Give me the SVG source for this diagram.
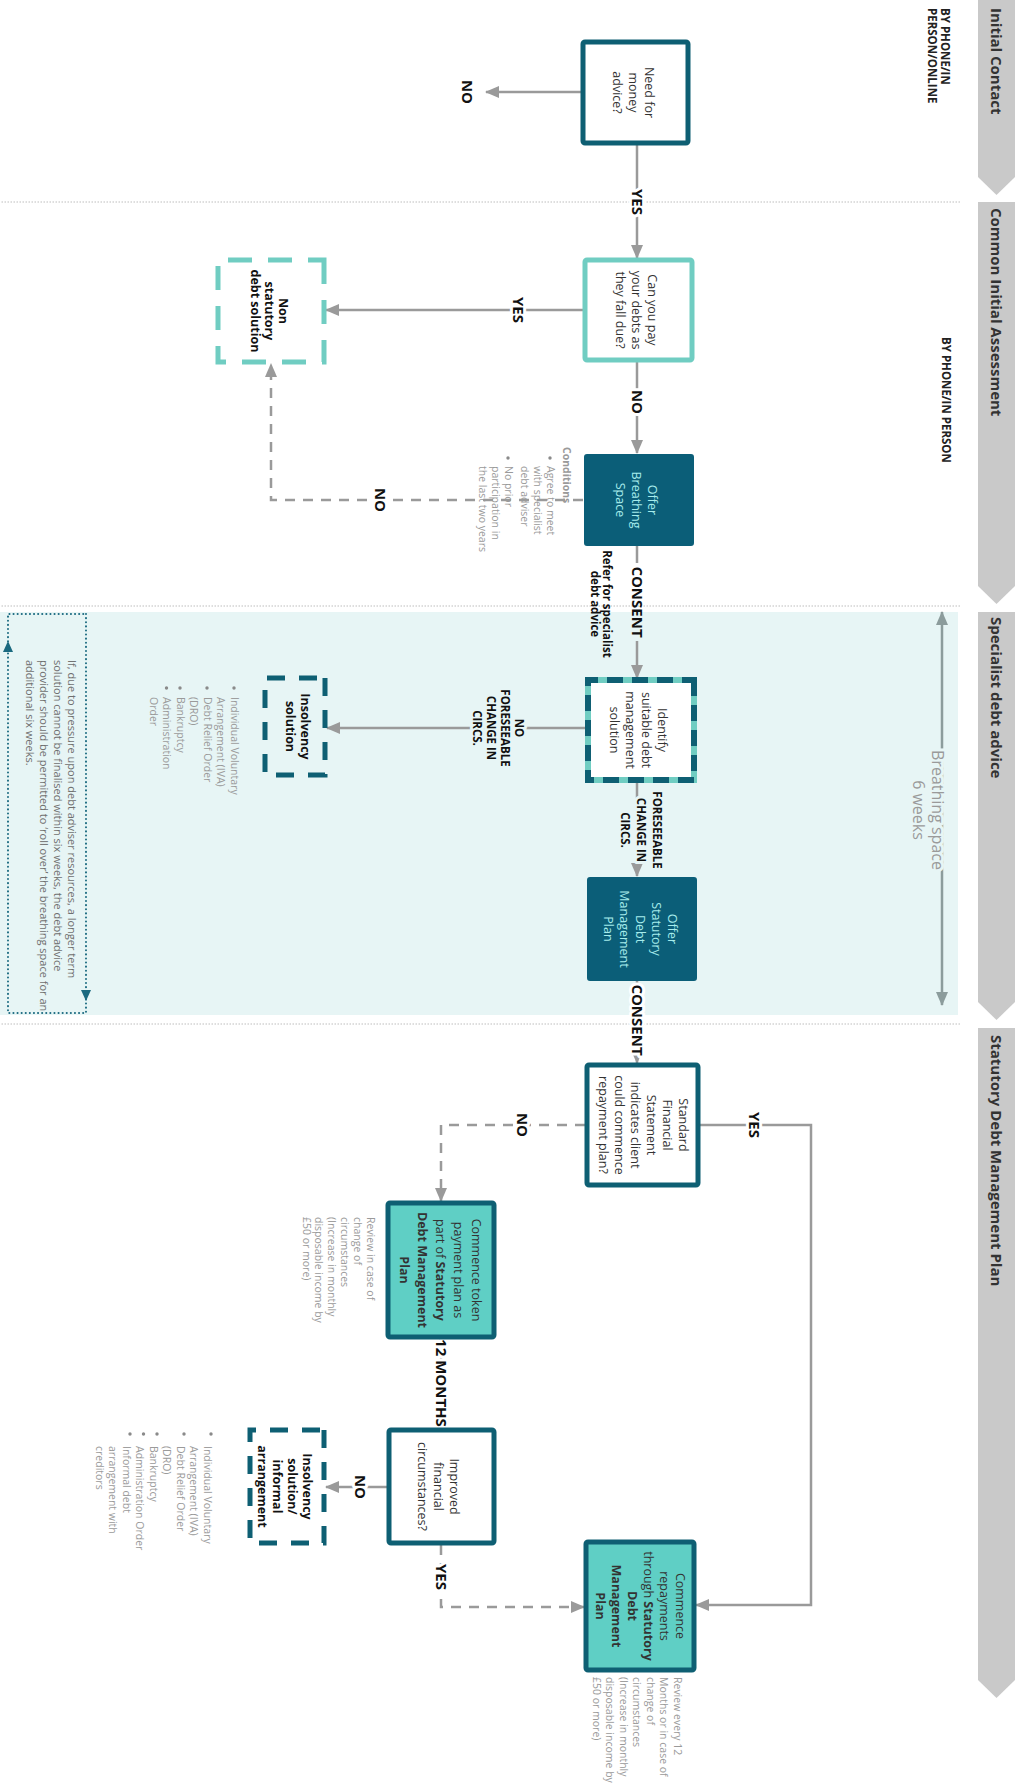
<svg xmlns="http://www.w3.org/2000/svg" width="1023" height="1786" viewBox="0 0 1023 1786">
<defs>
<marker id="ah" viewBox="0 0 14 12" refX="13" refY="6" markerWidth="14" markerHeight="12" orient="auto" markerUnits="userSpaceOnUse"><path d="M0,0 L14,6 L0,12 z" fill="#9a9a9a"/></marker>
<marker id="bh" viewBox="0 0 14 12" refX="13" refY="6" markerWidth="14" markerHeight="12" orient="auto-start-reverse" markerUnits="userSpaceOnUse"><path d="M0,0 L14,6 L0,12 z" fill="#8c9c9c"/></marker>
<style>
text{font-family:'Open Sans','Noto Sans',sans-serif}
.lane{fill:#c9c9c9}
.hdr{font-size:15px;font-weight:bold;fill:#333}
.sep{stroke:#bdbdbd;stroke-width:1;stroke-dasharray:1.5 1.5;fill:none}
.nt{font-size:12.5px;fill:#333;text-anchor:middle}
.ntd{font-size:12.5px;fill:#a6ecec;text-anchor:middle}
.ntb{font-size:12.5px;font-weight:bold;fill:#111;text-anchor:middle}
.wbox{fill:#fff;stroke:#0e5f73;stroke-width:5}
.lbox{fill:#fff;stroke:#70cdc2;stroke-width:5}
.dbox{fill:#0b5e78;stroke:#0b5e78;stroke-width:2}
.tbox{fill:#5fcfc5;stroke:#0e5f73;stroke-width:5}
.dashL{fill:none;stroke:#70cdc2;stroke-width:5;stroke-dasharray:24 16}
.dashD{fill:none;stroke:#0e5f73;stroke-width:5;stroke-dasharray:18 14}
.con{fill:none;stroke:#9a9a9a;stroke-width:2.5}
.dsh{stroke-dasharray:10 8}
.lbl{font-size:15px;font-weight:bold;fill:#111;text-anchor:middle}
.lbs{font-size:11.5px;font-weight:bold;fill:#111;text-anchor:middle}
.halo{stroke:#fff;stroke-width:6;paint-order:stroke;stroke-linejoin:round}
.haloc{stroke:#e7f5f5;stroke-width:6;paint-order:stroke;stroke-linejoin:round}
.sm{font-size:10.5px;fill:#9a9a9a}
.by{font-size:11.5px;font-weight:bold;fill:#222}
</style>
</defs>
<rect x="0" y="0" width="1023" height="1786" fill="#fff"/>
<g transform="translate(1023,0) rotate(90)">
  <g id="lanes">
    <rect x="612" y="65" width="403" height="958" fill="#e7f5f5"/>
    <polygon class="lane" points="0,8 177,8 195,26.5 177,45 0,45"/>
    <polygon class="lane" points="202,8 586,8 604,26.5 586,45 202,45"/>
    <polygon class="lane" points="612,8 1002,8 1020,26.5 1002,45 612,45"/>
    <polygon class="lane" points="1028,8 1680,8 1698,26.5 1680,45 1028,45"/>
    <text class="hdr" x="8" y="32">Initial Contact</text>
    <text class="hdr" x="208" y="32">Common Initial Assessment</text>
    <text class="hdr" x="617" y="32">Specialist debt advice</text>
    <text class="hdr" x="1035" y="32">Statutory Debt Management Plan</text>
    <line class="sep" x1="202" y1="63" x2="202" y2="1023"/>
    <line class="sep" x1="606" y1="63" x2="606" y2="1023"/>
    <line class="sep" x1="1024" y1="63" x2="1024" y2="1023"/>
    <text class="by" x="8" y="82">BY PHONE/IN</text>
    <text class="by" x="8" y="95">PERSON/ONLINE</text>
    <text class="by" x="337" y="81">BY PHONE/IN PERSON</text>
  </g>
  <g id="breathing">
    <line x1="612" y1="81" x2="1005" y2="81" stroke="#8c9c9c" stroke-width="2.5" marker-start="url(#bh)" marker-end="url(#bh)"/>
    <text x="810" y="91" font-size="16" fill="#9a9a9a" text-anchor="middle" class="haloc">Breathing space</text>
    <text x="810" y="110" font-size="16" fill="#9a9a9a" text-anchor="middle" class="haloc">6 weeks</text>
  </g>
  <g id="connectors">
    <path class="con" d="M92,442 V537" marker-end="url(#ah)"/>
    <path class="con" d="M145,386 H258" marker-end="url(#ah)"/>
    <path class="con" d="M310,440 V697" marker-end="url(#ah)"/>
    <path class="con" d="M362,386 H453" marker-end="url(#ah)"/>
    <path class="con dsh" d="M500,440 V752 H364" marker-end="url(#ah)"/>
    <path class="con" d="M545,386 H563"/>
    <path class="con" d="M641,386 H678" marker-end="url(#ah)"/>
    <path class="con" d="M728,437 V696" marker-end="url(#ah)"/>
    <path class="con" d="M782,386 H876" marker-end="url(#ah)"/>
    <path class="con" d="M980,386 H1063" marker-end="url(#ah)"/>
    <path class="con" d="M1125,323 V212 H1605 V327" marker-end="url(#ah)"/>
    <path class="con dsh" d="M1125,438 V582 H1201" marker-end="url(#ah)"/>
    <path class="con" d="M1339,582 H1428" marker-end="url(#ah)"/>
    <path class="con" d="M1487,636 V697" marker-end="url(#ah)"/>
    <path class="con dsh" d="M1545,582 H1607 V439" marker-end="url(#ah)"/>
    <text class="lbl" x="92" y="561">NO</text>
    <text class="lbl halo" x="202" y="391">YES</text>
    <text class="lbl halo" x="310" y="510">YES</text>
    <text class="lbl halo" x="402" y="391">NO</text>
    <text class="lbl halo" x="500" y="648">NO</text>
    <text class="lbl" x="602" y="391">CONSENT</text>
    <text class="lbs" x="604" y="420" font-size="9.5">Refer for specialist</text>
    <text class="lbs" x="604" y="432" font-size="9.5">debt advice</text>
    <text class="lbs haloc" x="728" y="508">NO</text>
    <text class="lbs haloc" x="728" y="522">FORESEEABLE</text>
    <text class="lbs haloc" x="728" y="536">CHANGE IN</text>
    <text class="lbs haloc" x="728" y="550">CIRCS.</text>
    <text class="lbs haloc" x="830" y="370">FORESEEABLE</text>
    <text class="lbs haloc" x="830" y="386">CHANGE IN</text>
    <text class="lbs haloc" x="830" y="402">CIRCS.</text>
    <text class="lbl halo" x="1020" y="391">CONSENT</text>
    <text class="lbl halo" x="1125" y="274">YES</text>
    <text class="lbl halo" x="1125" y="506">NO</text>
    <text class="lbl halo" x="1383" y="587">12 MONTHS</text>
    <text class="lbl halo" x="1487" y="668">NO</text>
    <text class="lbl halo" x="1577" y="587">YES</text>
  </g>
  <g id="n1">
    <rect class="wbox" x="42" y="335" width="101" height="105" rx="2"/>
    <text class="nt" x="92.5" y="378">Need for</text>
    <text class="nt" x="92.5" y="394">money</text>
    <text class="nt" x="92.5" y="410">advice?</text>
  </g>
  <g id="n2">
    <rect class="lbox" x="260" y="331" width="100" height="107" rx="2"/>
    <text class="nt" x="310" y="375">Can you pay</text>
    <text class="nt" x="310" y="391">your debts as</text>
    <text class="nt" x="310" y="407">they fall due?</text>
  </g>
  <g id="ns">
    <rect class="dashL" x="260" y="699" width="102" height="106"/>
    <text class="ntb" x="311" y="744">Non</text>
    <text class="ntb" x="311" y="758">statutory</text>
    <text class="ntb" x="311" y="772">debt solution</text>
  </g>
  <g id="n3">
    <rect class="dbox" x="455" y="330" width="90" height="108" rx="2"/>
    <text class="ntd" x="500" y="375">Offer</text>
    <text class="ntd" x="500" y="391">Breathing</text>
    <text class="ntd" x="500" y="407">Space</text>
  </g>
  <g id="conditions">
    <text class="sm" x="447" y="460" font-weight="bold" fill="#7a7a7a">Conditions</text>
    <circle cx="458" cy="473" r="1.7" fill="#8a8a8a"/>
    <circle cx="458" cy="515" r="1.7" fill="#8a8a8a"/>
    <text class="sm" x="466" y="476.5">Agree to meet</text>
    <text class="sm" x="466" y="489.5">with specialist</text>
    <text class="sm" x="466" y="502">debt adviser</text>
    <text class="sm" x="466" y="518.5">No prior</text>
    <text class="sm" x="466" y="531.5">participation in</text>
    <text class="sm" x="466" y="544.5">the last two years</text>
  </g>
  <g id="n4">
    <rect x="680" y="329" width="100" height="106" fill="#fff" stroke="#70cdc2" stroke-width="6"/>
    <rect x="680" y="329" width="100" height="106" fill="none" stroke="#0e5f73" stroke-width="6" stroke-dasharray="16 9"/>
    <text class="nt" x="730" y="365">Identify</text>
    <text class="nt" x="730" y="381">suitable debt</text>
    <text class="nt" x="730" y="397">management</text>
    <text class="nt" x="730" y="413">solution</text>
  </g>
  <g id="ins">
    <rect class="dashD" x="678" y="698" width="97" height="60"/>
    <text class="ntb" x="726.5" y="722">Insolvency</text>
    <text class="ntb" x="726.5" y="737">solution</text>
    <circle cx="688" cy="789" r="1.7" fill="#8a8a8a"/>
    <circle cx="688" cy="816" r="1.7" fill="#8a8a8a"/>
    <circle cx="688" cy="843" r="1.7" fill="#8a8a8a"/>
    <circle cx="688" cy="856.5" r="1.7" fill="#8a8a8a"/>
    <text class="sm" x="697" y="792.5">Individual Voluntary</text>
    <text class="sm" x="697" y="806">Arrangement (IVA)</text>
    <text class="sm" x="697" y="819.5">Debt Relief Order</text>
    <text class="sm" x="697" y="833">(DRO)</text>
    <text class="sm" x="697" y="846.5">Bankruptcy</text>
    <text class="sm" x="697" y="860">Administration</text>
    <text class="sm" x="697" y="873.5">Order</text>
  </g>
  <g id="n5">
    <rect class="dbox" x="878" y="327" width="102" height="108" rx="2"/>
    <text class="ntd" x="929" y="355.5">Offer</text>
    <text class="ntd" x="929" y="371.5">Statutory</text>
    <text class="ntd" x="929" y="387.5">Debt</text>
    <text class="ntd" x="929" y="403.5">Management</text>
    <text class="ntd" x="929" y="419.5">Plan</text>
  </g>
  <g id="note">
    <rect x="614" y="937" width="399" height="78" fill="none" stroke="#1b6a80" stroke-width="2" stroke-dasharray="0.1 4" stroke-linecap="round"/>
    <path d="M990,932 L1001,937 L990,942 z" fill="#1b6a80"/>
    <path d="M652,1010 L641,1015 L652,1020 z" fill="#1b6a80"/>
    <text x="660" y="955" font-size="11" fill="#6f6f6f">If, due to pressure upon debt adviser resources, a longer term</text>
    <text x="660" y="969" font-size="11" fill="#6f6f6f">solution cannot be finalised within six weeks, the debt advice</text>
    <text x="660" y="983" font-size="11" fill="#6f6f6f">provider should be permitted to ‘roll over’ the breathing space for an</text>
    <text x="660" y="997" font-size="11" fill="#6f6f6f">additional six weeks.</text>
  </g>
  <g id="n6">
    <rect class="wbox" x="1065" y="325" width="120" height="111" rx="2"/>
    <text class="nt" x="1125" y="344.5">Standard</text>
    <text class="nt" x="1125" y="360.5">Financial</text>
    <text class="nt" x="1125" y="376.5">Statement</text>
    <text class="nt" x="1125" y="392.5">indicates client</text>
    <text class="nt" x="1125" y="408.5">could commence</text>
    <text class="nt" x="1125" y="424.5">repayment plan?</text>
  </g>
  <g id="n7">
    <rect class="tbox" x="1203" y="529" width="134" height="106" rx="2"/>
    <text class="nt" x="1270" y="551" fill="#222">Commence token</text>
    <text class="nt" x="1270" y="569" fill="#222">payment plan as</text>
    <text class="nt" x="1270" y="587" fill="#222">part of <tspan font-weight="bold">Statutory</tspan></text>
    <text class="nt" x="1270" y="605" fill="#222" font-weight="bold">Debt Management</text>
    <text class="nt" x="1270" y="623" fill="#222" font-weight="bold">Plan</text>
    <text class="sm" x="1217" y="656.5">Review in case of</text>
    <text class="sm" x="1217" y="669.5">change of</text>
    <text class="sm" x="1217" y="682">circumstances</text>
    <text class="sm" x="1217" y="695">(Increase in monthly</text>
    <text class="sm" x="1217" y="708">disposable income by</text>
    <text class="sm" x="1217" y="720.5">£50 or more)</text>
  </g>
  <g id="n9">
    <rect class="wbox" x="1430" y="529" width="113" height="105" rx="2"/>
    <text class="nt" x="1486.5" y="573.5">Improved</text>
    <text class="nt" x="1486.5" y="589.5">financial</text>
    <text class="nt" x="1486.5" y="605.5">circumstances?</text>
  </g>
  <g id="ins2">
    <rect class="dashD" x="1430" y="699" width="113" height="74"/>
    <text class="ntb" x="1486.5" y="720">Insolvency</text>
    <text class="ntb" x="1486.5" y="735">solution/</text>
    <text class="ntb" x="1486.5" y="750">informal</text>
    <text class="ntb" x="1486.5" y="765">arrangement</text>
    <circle cx="1434" cy="812" r="1.7" fill="#8a8a8a"/>
    <circle cx="1434" cy="839" r="1.7" fill="#8a8a8a"/>
    <circle cx="1434" cy="866" r="1.7" fill="#8a8a8a"/>
    <circle cx="1434" cy="879.5" r="1.7" fill="#8a8a8a"/>
    <circle cx="1434" cy="893" r="1.7" fill="#8a8a8a"/>
    <text class="sm" x="1446" y="819.5">Individual Voluntary</text>
    <text class="sm" x="1446" y="833">Arrangement (IVA)</text>
    <text class="sm" x="1446" y="846.5">Debt Relief Order</text>
    <text class="sm" x="1446" y="860">(DRO)</text>
    <text class="sm" x="1446" y="873.5">Bankruptcy</text>
    <text class="sm" x="1446" y="887">Administration Order</text>
    <text class="sm" x="1446" y="900.5">Informal debt</text>
    <text class="sm" x="1446" y="914">arrangement with</text>
    <text class="sm" x="1446" y="927.5">creditors</text>
  </g>
  <g id="n8">
    <rect class="tbox" x="1542" y="329" width="128" height="108" rx="2"/>
    <text class="nt" x="1606" y="347.5" fill="#222">Commence</text>
    <text class="nt" x="1606" y="363.5" fill="#222">repayments</text>
    <text class="nt" x="1606" y="379.5" fill="#222">through <tspan font-weight="bold">Statutory</tspan></text>
    <text class="nt" x="1606" y="395.5" fill="#222" font-weight="bold">Debt</text>
    <text class="nt" x="1606" y="411.5" fill="#222" font-weight="bold">Management</text>
    <text class="nt" x="1606" y="427.5" fill="#222" font-weight="bold">Plan</text>
    <text class="sm" x="1677" y="349.5">Review every 12</text>
    <text class="sm" x="1677" y="363">Months or in case of</text>
    <text class="sm" x="1677" y="376.5">change of</text>
    <text class="sm" x="1677" y="390">circumstances</text>
    <text class="sm" x="1677" y="403.5">(Increase in monthly</text>
    <text class="sm" x="1677" y="417">disposable income by</text>
    <text class="sm" x="1677" y="430.5">£50 or more)</text>
  </g>
</g>
</svg>
